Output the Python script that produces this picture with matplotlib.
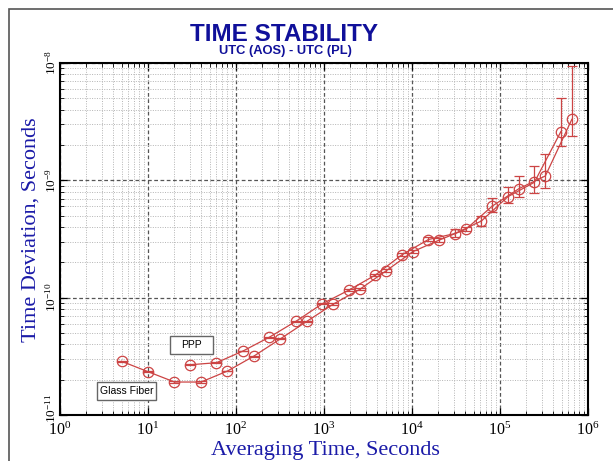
import matplotlib
matplotlib.use("Agg")
import matplotlib.pyplot as plt
from matplotlib.patches import Rectangle
from matplotlib.transforms import ScaledTranslation
from matplotlib.ticker import LogLocator, NullFormatter, FixedLocator, FixedFormatter

# ---------------- data ----------------
gf_tau = [5, 10, 20, 40, 80, 160, 320, 640, 1280, 2560, 5120, 10240,
          20480, 40960, 81920, 163840, 327680, 655360]
gf_val = [2.87e-11, 2.34e-11, 1.91e-11, 1.91e-11, 2.37e-11, 3.18e-11, 4.46e-11,
          6.29e-11, 8.83e-11, 1.18e-10, 1.70e-10, 2.47e-10, 3.10e-10, 3.83e-10,
          6.04e-10, 8.49e-10, 1.09e-9, 3.31e-9]
gf_err_lo = [2e-13, 2e-13, 2e-13, 2e-13, 2e-13, 3e-13, 5e-13, 8e-13, 1.2e-12, 2e-12,
             4e-12, 8e-12, 1.0e-11, 1.5e-11, 6.3e-11, 1.28e-10, 2.25e-10, 9.1e-10]
gf_err_hi = [2e-13, 2e-13, 2e-13, 2e-13, 2e-13, 3e-13, 5e-13, 8e-13, 1.2e-12, 2e-12,
             4e-12, 9e-12, 1.2e-11, 1.8e-11, 9.9e-11, 2.31e-10, 5.8e-10, 6.12e-9]

ppp_tau = [30, 60, 120, 240, 480, 960, 1920, 3840, 7680, 15360, 30720, 61440,
           122880, 245760, 491520]
ppp_val = [2.68e-11, 2.79e-11, 3.51e-11, 4.61e-11, 6.29e-11, 8.89e-11, 1.16e-10,
           1.56e-10, 2.32e-10, 3.13e-10, 3.52e-10, 4.50e-10, 7.25e-10, 9.62e-10, 2.60e-9]
ppp_err_lo = [2e-13, 2e-13, 3e-13, 4e-13, 6e-13, 1e-12, 1.5e-12, 3e-12, 7e-12,
              1.1e-11, 2.1e-11, 4.2e-11, 8.0e-11, 1.77e-10, 6.4e-10]
ppp_err_hi = [2e-13, 2e-13, 3e-13, 4e-13, 6e-13, 1e-12, 1.5e-12, 3e-12, 8e-12,
              1.3e-11, 3.1e-11, 4.7e-11, 1.58e-10, 3.7e-10, 2.46e-9]

x_ticks = [1e0, 1e1, 1e2, 1e3, 1e4, 1e5, 1e6]
x_ticklabels = [r"$10^{0}$", r"$10^{1}$", r"$10^{2}$", r"$10^{3}$",
                r"$10^{4}$", r"$10^{5}$", r"$10^{6}$"]
y_ticks = [1e-11, 1e-10, 1e-9, 1e-8]
y_ticklabels = [r"$10^{-11}$", r"$10^{-10}$", r"$10^{-9}$", r"$10^{-8}$"]

title = "TIME STABILITY"
subtitle = "UTC (AOS) - UTC (PL)"
xlabel = "Averaging Time, Seconds"
ylabel = "Time Deviation, Seconds"
label_ppp = "PPP"
label_gf = "Glass Fiber"

# ---------------- style ----------------
plt.rcParams['mathtext.fontset'] = 'custom'
plt.rcParams['mathtext.rm'] = 'Liberation Serif'
plt.rcParams['mathtext.it'] = 'Liberation Serif'

W, H = 613, 461
fig = plt.figure(figsize=(W / 100, H / 100), dpi=100)
fig.patch.set_facecolor('white')

# outer frame
fig.add_artist(Rectangle((9 / W, -0.05), 1.1, 1 - 9 / H + 0.05,
                         transform=fig.transFigure, fill=False,
                         edgecolor='#555555', linewidth=1.2))

ax = fig.add_axes([60 / W, 1 - 415 / H, 528 / W, 352 / H])
ax.set_xscale('log')
ax.set_yscale('log')
ax.set_xlim(1, 1e6)
ax.set_ylim(1e-11, 1e-8)

red = '#cc4444'
for tau, val, lo, hi in [(gf_tau, gf_val, gf_err_lo, gf_err_hi),
                         (ppp_tau, ppp_val, ppp_err_lo, ppp_err_hi)]:
    ax.errorbar(tau, val, yerr=[lo, hi], color=red, ecolor=red,
                marker='o', markersize=7.5, markerfacecolor='none',
                markeredgecolor=red, markeredgewidth=0.9,
                linewidth=0.9, elinewidth=0.9, capsize=3.5, capthick=0.9, zorder=3)

# grid
ax.grid(True, which='major', linestyle=(0, (3, 2)), color='#555555', linewidth=0.9)
ax.grid(True, which='minor', linestyle=(0, (1, 1.5)), color='#b4b4b4', linewidth=0.7)
ax.xaxis.set_minor_locator(LogLocator(base=10, subs=range(2, 10), numticks=20))
ax.yaxis.set_minor_locator(LogLocator(base=10, subs=range(2, 10), numticks=20))
ax.xaxis.set_minor_formatter(NullFormatter())
ax.yaxis.set_minor_formatter(NullFormatter())

ax.xaxis.set_major_locator(FixedLocator(x_ticks))
ax.xaxis.set_major_formatter(FixedFormatter(x_ticklabels))
ax.yaxis.set_major_locator(FixedLocator(y_ticks))
ax.yaxis.set_major_formatter(NullFormatter())

ax.tick_params(which='both', direction='in', top=True, right=True)
ax.tick_params(which='major', length=5, width=0.9)
ax.tick_params(which='minor', length=3, width=0.6)
ax.tick_params(axis='x', labelsize=11.5, pad=4)
for sp in ax.spines.values():
    sp.set_linewidth(1.5)
    sp.set_color('black')

# rotated y tick labels, placed at their tick values
ytrans = ax.get_yaxis_transform()
y_shift_px = [7, 0, 0, 0]
for v, lab, sh in zip(y_ticks, y_ticklabels, y_shift_px):
    ax.text(-(60 - 51) / 528, v, lab, transform=ytrans + ScaledTranslation(0, sh / 100, fig.dpi_scale_trans),
            rotation=90, fontsize=9.5, ha='center', va='center', clip_on=False)

blue = '#1b1ba8'
ax.set_xlabel(xlabel, fontsize=16, color=blue, family='Liberation Serif')
ax.xaxis.set_label_coords((325 - 60) / 528, -(450 - 415) / 352)
ax.xaxis.label.set_va('center')
ax.set_ylabel(ylabel, fontsize=16, color=blue, family='Liberation Serif')
ax.yaxis.set_label_coords(-(60 - 31) / 528, (415 - 230) / 352)
ax.yaxis.label.set_va('center')

fig.text(284 / W, 1 - 41 / H, title, fontsize=17.5, color='#10109a', weight='bold',
         family='Liberation Sans', ha='center', va='baseline')
fig.text(285 / W, 1 - 54 / H, subtitle, fontsize=9.3, color='#10109a', weight='bold',
         family='Liberation Sans', ha='center', va='baseline')

# annotation boxes
for (x0, y0, x1, y1), txt in [((170, 336, 213, 354), label_ppp),
                              ((97, 382, 156, 400), label_gf)]:
    fig.add_artist(Rectangle((x0 / W, 1 - y1 / H), (x1 - x0) / W, (y1 - y0) / H,
                             transform=fig.transFigure, facecolor='white',
                             edgecolor='#666666', linewidth=1.0, zorder=5))
    fig.text((x0 + x1) / 2 / W, 1 - (y0 + y1) / 2 / H, txt, fontsize=7.5,
             ha='center', va='center', family='Liberation Sans', zorder=6)

fig.savefig('out.png', dpi=100)
